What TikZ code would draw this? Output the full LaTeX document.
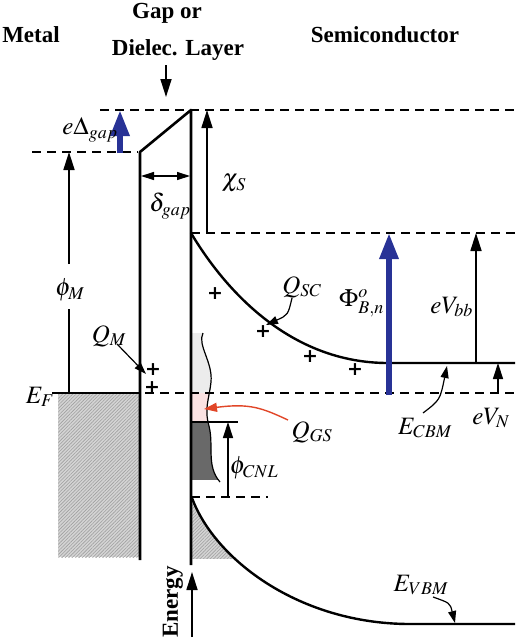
\documentclass[tikz,border=0pt]{standalone}
\usepackage{mathptmx}
\usepackage[no-math]{fontspec}
\setmainfont{Liberation Serif}
\newfontfamily\plusfont{DejaVu Sans}
\usetikzlibrary{arrows.meta,patterns.meta}
\DeclareMathSizes{25}{25}{18}{14}
\definecolor{navy}{RGB}{40,50,150}
\definecolor{redarr}{RGB}{225,70,40}
\definecolor{pinkst}{RGB}{250,226,226}
\definecolor{lightst}{RGB}{236,236,236}
\definecolor{metalgray}{RGB}{212,212,212}
\definecolor{hatchgray}{RGB}{160,160,160}
\definecolor{darkst}{RGB}{105,105,105}
\begin{document}
\begin{tikzpicture}[x=1pt,y=-1pt,
 hdr/.style={font=\fontsize{23}{27}\selectfont\bfseries, inner sep=0pt},
 lbl/.style={font=\fontsize{25}{30}\selectfont, inner sep=0pt},
 wall/.style={line width=2.6pt},
 band/.style={line width=2.4pt},
 dsh/.style={line width=1.2pt, dash pattern=on 9pt off 6pt},
 arr/.style={line width=1.7pt, -{Triangle[length=18pt,width=11pt]}},
 sarr/.style={line width=1.4pt, -{Triangle[length=16pt,width=10pt]}},
 tarr/.style={line width=1.2pt, -{Triangle[length=12pt,width=8pt]}},
 barr/.style={line width=6pt, draw=navy, -{Triangle[length=26pt,width=18pt]}},
 plus/.style={font=\plusfont\bfseries\fontsize{19}{19}\selectfont, inner sep=0pt},
 hatched/.style={fill=metalgray, postaction={pattern={Lines[angle=45,distance=2.4pt,line width=0.6pt]}, pattern color=hatchgray}}
]
\useasboundingbox (0,0) rectangle (520,640);

% ---------- fills ----------
\path[hatched] (58,393) rectangle (140,557);
\begin{scope}
\clip (192,333) -- (203,333) .. controls (197,345) and (213,362) .. (211,382)
  .. controls (209,400) and (204,408) .. (209,426)
  .. controls (214,446) and (206,466) .. (220,482) -- (192,482) -- cycle;
\fill[lightst] (192,333) rectangle (230,393);
\fill[pinkst] (192,393) rectangle (230,422);
\fill[darkst] (192,422) rectangle (230,480);
\end{scope}
\begin{scope}
\clip (192,490) rectangle (300,558);
\path[hatched] (192,498) .. controls (215,560) and (300,624) .. (410,624) -- (192,624) -- cycle;
\end{scope}

% ---------- headers ----------
\node[hdr] (metal) at (31,35) {Metal};
\node[hdr] (gap1) at (167,13) {Gap or};
\node[hdr] (gap2) at (178,50) {Dielec. Layer};
\node[hdr] (semi) at (385,35) {Semiconductor};
\node[hdr, rotate=90] (energy) at (173,602) {Energy};

% ---------- coordinates ----------
\coordinate (gTL) at (140,152);
\coordinate (gTR) at (191,110);
\coordinate (gBL) at (140,560);
\coordinate (gBR) at (191,565);
\coordinate (efL) at (52,393);
\coordinate (efR) at (140,393);
\coordinate (cb0) at (191,233);
\coordinate (cb1) at (388,363);
\coordinate (cb2) at (515,363);
\coordinate (vb0) at (192,498);
\coordinate (vb1) at (410,624);
\coordinate (vb2) at (515,624);

% ---------- dashed levels ----------
\coordinate (d1a) at (100,110); \coordinate (d1b) at (515,110);
\coordinate (d2a) at (32,152);  \coordinate (d2b) at (138,152);
\coordinate (d3a) at (191,233); \coordinate (d3b) at (515,233);
\coordinate (d4a) at (145,393); \coordinate (d4b) at (515,393);
\coordinate (d5a) at (191,497); \coordinate (d5b) at (268,497);
\draw[dsh] (d1a) -- (d1b);
\draw[dsh] (d2a) -- (d2b);
\draw[dsh] (d3a) -- (d3b);
\draw[dsh] (d4a) -- (d4b);
\draw[dsh] (d5a) -- (d5b);

% ---------- walls and bands ----------
\draw[wall, line join=round] (gBL) -- (gTL) -- (gTR) -- (gBR);
\draw[wall] (efL) -- (efR);
\draw[band] (cb0) .. controls (225,290) and (290,363) .. (cb1) -- (cb2);
\draw[band] (vb0) .. controls (215,560) and (300,624) .. (vb1) -- (vb2);

% interface states
\draw[line width=1.2pt] (203,333) .. controls (197,345) and (213,362) .. (211,382)
  .. controls (209,400) and (204,408) .. (209,426)
  .. controls (214,446) and (206,466) .. (220,482);
\coordinate (cnlL) at (192,422); \coordinate (cnlR) at (238,422);
\draw[line width=1.4pt] (cnlL) -- (cnlR);

% ---------- arrows ----------
\coordinate (ga0) at (166,65); \coordinate (ga1) at (166,97);
\draw[arr] (ga0) -- (ga1);
\coordinate (eD0) at (120,153); \coordinate (eD1) at (120,110);
\draw[barr] (eD0) -- (eD1);
\coordinate (chi0) at (207,233); \coordinate (chi1) at (207,110);
\draw[arr] (chi0) -- (chi1);
\coordinate (dl0) at (141,176); \coordinate (dl1) at (190,176);
\draw[line width=1.2pt, {Triangle[length=13pt,width=8pt]}-{Triangle[length=13pt,width=8pt]}] (dl0) -- (dl1);
\coordinate (pm0) at (69,393); \coordinate (pm1) at (69,309);
\coordinate (pm2) at (69,264); \coordinate (pm3) at (69,152);
\draw[line width=1.7pt] (pm0) -- (pm1);
\draw[arr] (pm2) -- (pm3);
\coordinate (Ph0) at (389,395); \coordinate (Ph1) at (389,233);
\draw[barr] (Ph0) -- (Ph1);
\coordinate (vb0a) at (476,363); \coordinate (vb1a) at (476,233);
\draw[arr] (vb0a) -- (vb1a);
\coordinate (vn0) at (498,393); \coordinate (vn1) at (498,363);
\draw[sarr] (vn0) -- (vn1);
\coordinate (cn0) at (228,497); \coordinate (cn1) at (228,422);
\draw[sarr] (cn0) -- (cn1);
\coordinate (en0) at (192,637); \coordinate (en1) at (192,572);
\draw[arr] (en0) -- (en1);

% annotation arrows
\coordinate (qm0) at (117,344); \coordinate (qm1) at (146,374);
\draw[tarr] (qm0) -- (qm1);
\coordinate (qs0) at (292,298); \coordinate (qs1) at (266,325);
\draw[tarr] (qs0) .. controls (288,315) .. (qs1);
\coordinate (ec0) at (423,413); \coordinate (ec1) at (447,366);
\draw[tarr] (ec0) .. controls (440,400) .. (ec1);
\coordinate (ev0) at (433,597); \coordinate (ev1) at (455,623);
\draw[tarr] (ev0) .. controls (450,603) .. (ev1);
\coordinate (qg0) at (288,420); \coordinate (qg1) at (204,409);
\draw[line width=1.4pt, redarr, -{Triangle[length=13pt,width=9pt]}] (qg0) .. controls (262,408) and (250,403) .. (qg1);

% ---------- labels ----------
\node[lbl] (eD) at (90,130) {$e\Delta_{gap}$};
\node[lbl] (chi) at (234,183) {$\chi_S$};
\node[lbl] (delta) at (170,206) {$\delta_{gap}$};
\node[lbl] (phiM) at (70,290) {$\phi_M$};
\node[lbl] (EF) at (40,397) {$E_F$};
\node[lbl] (QM) at (109,336) {$Q_M$};
\node[lbl] (QSC) at (302,287) {$Q_{SC}$};
\node[lbl, anchor=east] (PhiB) at (384,303) {$\Phi^{o}_{B,n}$};
\node[lbl, anchor=east] (eVbb) at (473,307) {$eV_{bb}$};
\node[lbl] (eVN) at (491,418) {$eV_N$};
\node[lbl] (ECBM) at (425,428) {$E_{CBM}$};
\node[lbl] (QGS) at (312,432) {$Q_{GS}$};
\node[lbl] (phiCNL) at (254,468) {$\phi_{CNL}$};
\node[lbl] (EVBM) at (421,585) {$E_{VBM}$};

% plus signs
\node[plus] (p1) at (153,370) {+};
\node[plus] (p2) at (152,388) {+};
\node[plus] (p3) at (215,294) {+};
\node[plus] (p4) at (263,332) {+};
\node[plus] (p5) at (310,357) {+};
\node[plus] (p6) at (355,370) {+};
\end{tikzpicture}
\end{document}
